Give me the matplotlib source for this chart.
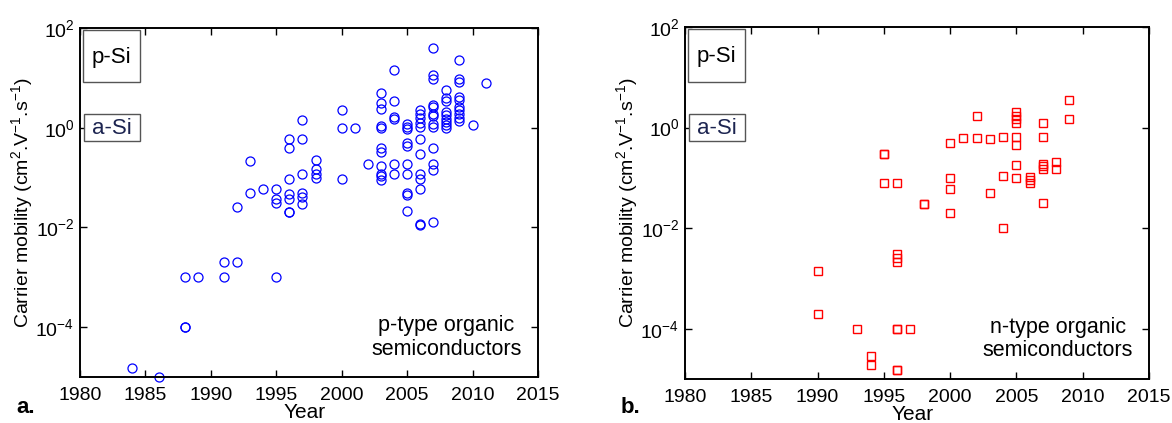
import numpy as np
import matplotlib
matplotlib.use("Agg")
import matplotlib.pyplot as plt
from matplotlib.patches import Rectangle
from matplotlib.ticker import FixedLocator, LogFormatterSciNotation

plt.rcParams["font.family"] = ["Liberation Sans", "DejaVu Sans"]
plt.rcParams["mathtext.fontset"] = "custom"
plt.rcParams["mathtext.rm"] = "Liberation Sans"
plt.rcParams["mathtext.it"] = "Liberation Sans:italic"
plt.rcParams["mathtext.bf"] = "Liberation Sans:bold"

# DATA
# p-type organic semiconductors
p_years = [1984, 1986,
           1988, 1988, 1988, 1989,
           1991, 1991, 1992, 1992,
           1993, 1993, 1994,
           1995, 1995, 1995, 1995,
           1996, 1996, 1996, 1996, 1996, 1996, 1996,
           1997, 1997, 1997, 1997, 1997, 1997,
           1998, 1998, 1998, 1998,
           2000, 2000, 2000, 2001, 2002,
           2003, 2003, 2003, 2003, 2003, 2003, 2003, 2003, 2003, 2003, 2003,
           2004, 2004, 2004, 2004, 2004, 2004,
           2005, 2005, 2005, 2005, 2005, 2005, 2005, 2005, 2005, 2005,
           2006, 2006, 2006, 2006, 2006, 2006, 2006, 2006, 2006, 2006, 2006, 2006,
           2007, 2007, 2007, 2007, 2007, 2007, 2007, 2007, 2007, 2007, 2007, 2007, 2007,
           2008, 2008, 2008, 2008, 2008, 2008, 2008, 2008, 2008,
           2009, 2009, 2009, 2009, 2009, 2009, 2009, 2009, 2009, 2009,
           2010, 2011]
p_mobility = [1.5e-5, 1e-5,
              1e-3, 1e-4, 1e-4, 1e-3,
              1e-3, 2e-3, 2e-3, 0.026,
              0.215, 0.05, 0.058,
              1e-3, 0.058, 0.038, 0.031,
              0.59, 0.39, 0.095, 0.046, 0.037, 0.02, 0.02,
              1.46, 0.59, 0.12, 0.05, 0.041, 0.03,
              0.22, 0.15, 0.12, 0.1,
              2.3, 1.0, 0.095, 1.0, 0.19,
              4.9, 3.1, 2.4, 1.1, 1.0, 0.39, 0.32, 0.17, 0.12, 0.11, 0.089,
              14.5, 3.5, 1.66, 1.48, 0.19, 0.118,
              1.17, 1.04, 0.96, 0.49, 0.43, 0.19, 0.118, 0.05, 0.044, 0.021,
              2.3, 1.9, 1.55, 1.26, 1.04, 0.59, 0.30, 0.12, 0.095, 0.058, 0.0115, 0.011,
              39, 11.4, 9.7, 2.9, 2.6, 1.9, 1.7, 1.2, 1.04, 0.39, 0.19, 0.14, 0.013,
              5.8, 3.9, 3.5, 2.1, 1.8, 1.5, 1.3, 1.16, 1.0,
              23, 9.7, 8.4, 4.2, 3.6, 2.6, 2.3, 1.85, 1.6, 1.35,
              1.16, 7.8]

# n-type organic semiconductors
n_years = [1990, 1990, 1993, 1994, 1994,
           1995, 1995, 1995,
           1996, 1996, 1996, 1996, 1996, 1996, 1996, 1996,
           1997, 1998, 1998,
           2000, 2000, 2000, 2000, 2001, 2002, 2002,
           2003, 2003, 2004, 2004, 2004,
           2005, 2005, 2005, 2005, 2005, 2005, 2005, 2005,
           2006, 2006, 2006,
           2007, 2007, 2007, 2007, 2007, 2007,
           2008, 2008, 2009, 2009]
n_mobility = [1.4e-3, 2e-4, 1e-4, 2.9e-5, 1.9e-5,
              0.3, 0.3, 0.08,
              0.08, 3e-3, 2.5e-3, 2.1e-3, 1e-4, 1e-4, 1.5e-5, 1.5e-5,
              1e-4, 0.03, 0.03,
              0.5, 0.1, 0.06, 0.02, 0.62, 1.7, 0.62,
              0.58, 0.049, 0.65, 0.11, 0.01,
              2.0, 1.7, 1.5, 1.23, 0.65, 0.46, 0.18, 0.10,
              0.105, 0.091, 0.079,
              1.23, 0.65, 0.19, 0.17, 0.15, 0.031,
              0.21, 0.15, 3.5, 1.45]

x_ticks = [1980, 1985, 1990, 1995, 2000, 2005, 2010, 2015]
y_ticks = [1e-4, 1e-2, 1e0, 1e2]
ylabel = "Carrier mobility (cm$^{2}$.V$^{-1}$.s$^{-1}$)"

fig = plt.figure(figsize=(11.72, 4.23), dpi=100)
ax1 = fig.add_axes([80/1172, 1-377/423, 458/1172, 349/423])
ax2 = fig.add_axes([685/1172, 1-379/423, 464/1172, 352/423])


def style_axis(ax):
    ax.set_yscale("log")
    ax.set_xlim(1980, 2015)
    ax.set_ylim(1e-5, 1e2)
    ax.xaxis.set_major_locator(FixedLocator(x_ticks))
    ax.yaxis.set_major_locator(FixedLocator(y_ticks))
    ax.yaxis.set_major_formatter(LogFormatterSciNotation())
    ax.yaxis.set_minor_locator(FixedLocator([]))
    ax.tick_params(direction="in", top=True, right=True, length=5, width=1,
                   labelsize=14, colors="black")
    ax.tick_params(axis="y", pad=4)
    ax.tick_params(axis="x", pad=7)
    for s in ax.spines.values():
        s.set_linewidth(1.4)
        s.set_color("black")
    ax.set_ylabel(ylabel, fontsize=14)
    ax.set_xlabel("Year", fontsize=15)
    ax.yaxis.set_label_coords(-0.098, 0.5)
    ax.xaxis.set_label_coords(0.49, -0.075)


def si_boxes(ax):
    # p-Si and a-Si reference boxes
    ax.add_patch(Rectangle((0.006, 0.845), 0.124, 0.149, transform=ax.transAxes,
                           facecolor="white", edgecolor="#555555", lw=1.0, zorder=3))
    ax.text(0.068, 0.915, "p-Si", transform=ax.transAxes, ha="center", va="center",
            fontsize=16, color="black", zorder=4)
    ax.add_patch(Rectangle((0.008, 0.676), 0.122, 0.077, transform=ax.transAxes,
                           facecolor="white", edgecolor="#555555", lw=1.0, zorder=3))
    ax.text(0.069, 0.713, "a-Si", transform=ax.transAxes, ha="center", va="center",
            fontsize=16, color="#1c2450", zorder=4)


style_axis(ax1)
si_boxes(ax1)
ax1.plot(p_years, p_mobility, "o", mfc="none", mec="blue", ms=6.5, mew=0.9,
         clip_on=False, zorder=2)
ax1.text(0.80, 0.05, "p-type organic\nsemiconductors", transform=ax1.transAxes,
         ha="center", va="bottom", fontsize=15.5, linespacing=1.15)

style_axis(ax2)
si_boxes(ax2)
ax2.plot(n_years, n_mobility, "s", mfc="none", mec="red", ms=5.5, mew=1.0,
         clip_on=False, zorder=2)
ax2.text(0.804, 0.05, "n-type organic\nsemiconductors", transform=ax2.transAxes,
         ha="center", va="bottom", fontsize=15.5, linespacing=1.15)

fig.text(16/1172, 1-407/423, "a.", fontsize=16, fontweight="bold", va="center")
fig.text(621/1172, 1-407/423, "b.", fontsize=16, fontweight="bold", va="center")

fig.savefig("out.png", dpi=100)
